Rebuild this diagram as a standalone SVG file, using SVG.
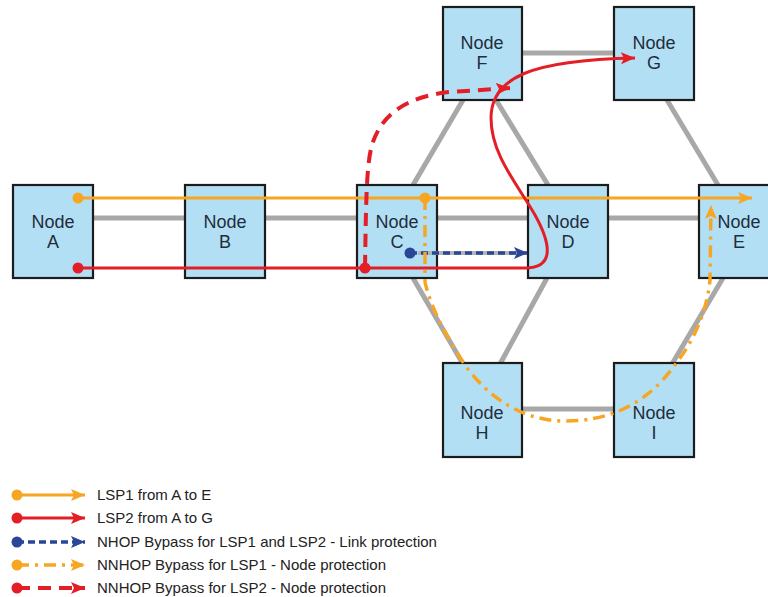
<svg xmlns="http://www.w3.org/2000/svg" width="768" height="597" viewBox="0 0 768 597">
<style>
.link{stroke:#a8a8a8;stroke-width:5;fill:none}
.box{fill:#b3dff4;stroke:#1c1c1c;stroke-width:2.2}
.lbl{font-family:"Liberation Sans",Arial,sans-serif;font-size:18px;fill:#1f2d3d;text-anchor:middle}
.leg{font-family:"Liberation Sans",Arial,sans-serif;font-size:15px;fill:#222}
.orange{stroke:#f6a623;stroke-width:3;fill:none}
.red{stroke:#e31e26;stroke-width:3;fill:none}
.blue{stroke:#2b4597;stroke-width:3.5;fill:none;stroke-dasharray:7 4}
.odash{stroke:#f6a623;stroke-width:3.5;fill:none;stroke-dasharray:12 6 3 6}
.rdash{stroke:#e31e26;stroke-width:4;fill:none;stroke-dasharray:13 8}
</style>
<defs>
<marker id="ao" markerUnits="userSpaceOnUse" markerWidth="16" markerHeight="12" refX="14" refY="6" orient="auto"><path d="M0,0 L14,6 L0,12 L3,6 z" fill="#f6a623"/></marker>
<marker id="ar" markerUnits="userSpaceOnUse" markerWidth="16" markerHeight="12" refX="14" refY="6" orient="auto"><path d="M0,0 L14,6 L0,12 L3,6 z" fill="#e31e26"/></marker>
<marker id="ab" markerUnits="userSpaceOnUse" markerWidth="16" markerHeight="12" refX="14" refY="6" orient="auto"><path d="M0,0 L14,6 L0,12 L3,6 z" fill="#2b4597"/></marker>
</defs>
<g id="links">
<line class="link" x1="93" y1="218" x2="185" y2="218"/>
<line class="link" x1="265" y1="218" x2="357" y2="218"/>
<line class="link" x1="437" y1="218" x2="528" y2="218"/>
<line class="link" x1="608" y1="218" x2="699" y2="218"/>
<line class="link" x1="522" y1="53" x2="614" y2="53"/>
<line class="link" x1="522" y1="409" x2="614" y2="409"/>
<line class="link" x1="413" y1="185" x2="463" y2="100"/>
<line class="link" x1="548" y1="185" x2="496" y2="100"/>
<line class="link" x1="718" y1="185" x2="667" y2="100"/>
<line class="link" x1="413" y1="278" x2="463" y2="364"/>
<line class="link" x1="547" y1="278" x2="500" y2="364"/>
<line class="link" x1="723" y1="278" x2="672" y2="364"/>
</g>
<g id="nodeA"><rect class="box" x="13" y="185" width="80" height="93"/><text class="lbl" x="53" y="228">Node</text><text class="lbl" x="53" y="248">A</text></g>
<g id="nodeB"><rect class="box" x="185" y="185" width="80" height="93"/><text class="lbl" x="225" y="228">Node</text><text class="lbl" x="225" y="248">B</text></g>
<g id="nodeC"><rect class="box" x="357" y="185" width="80" height="93"/><text class="lbl" x="397" y="228">Node</text><text class="lbl" x="397" y="248">C</text></g>
<g id="nodeD"><rect class="box" x="528" y="185" width="80" height="93"/><text class="lbl" x="568" y="228">Node</text><text class="lbl" x="568" y="248">D</text></g>
<g id="nodeE"><rect class="box" x="699" y="185" width="80" height="93"/><text class="lbl" x="739" y="228">Node</text><text class="lbl" x="739" y="248">E</text></g>
<g id="nodeF"><rect class="box" x="443" y="7" width="79" height="93"/><text class="lbl" x="482" y="49">Node</text><text class="lbl" x="482" y="69">F</text></g>
<g id="nodeG"><rect class="box" x="614" y="7" width="80" height="93"/><text class="lbl" x="654" y="49">Node</text><text class="lbl" x="654" y="69">G</text></g>
<g id="nodeH"><rect class="box" x="443" y="363" width="79" height="94"/><text class="lbl" x="482" y="419">Node</text><text class="lbl" x="482" y="439">H</text></g>
<g id="nodeI"><rect class="box" x="614" y="363" width="80" height="94"/><text class="lbl" x="654" y="419">Node</text><text class="lbl" x="654" y="439">I</text></g>
<g id="connectors">
<path class="orange" d="M78,198 H752" marker-end="url(#ao)"/>
<path class="red" d="M78,268 H525 C556,268 550,242 535,215 C518,185 491,155 491,118 C491,78 530,60 635,58" marker-end="url(#ar)"/>
<line x1="418" y1="253" x2="520" y2="253" stroke="#b4b4b4" stroke-width="4"/>
<path class="blue" d="M410,253 H528" marker-end="url(#ab)"/>
<path class="odash" d="M425,198 V282 C430,305 445,335 465,365 C490,400 525,421 565,421 C605,421 635,408 660,383 C690,350 706,318 710,280 L711,205" marker-end="url(#ao)"/>
<path class="rdash" d="M365,268 C366,210 366,165 372,145 C382,112 410,96 450,92 L510,88" marker-end="url(#ar)"/>
<circle cx="78" cy="198" r="5.5" fill="#f6a623"/>
<circle cx="78" cy="268" r="5.5" fill="#e31e26"/>
<circle cx="365" cy="268" r="5.5" fill="#e31e26"/>
<circle cx="425" cy="198" r="5.5" fill="#f6a623"/>
<circle cx="410" cy="253" r="5.5" fill="#2b4597"/>
</g>
<g id="legend">
<path class="orange" d="M17,495 H85" marker-end="url(#ao)"/><circle cx="17" cy="495" r="5.5" fill="#f6a623"/>
<text class="leg" x="97" y="500">LSP1 from A to E</text>
<path class="red" d="M17,518 H85" marker-end="url(#ar)"/><circle cx="17" cy="518" r="5.5" fill="#e31e26"/>
<text class="leg" x="97" y="523">LSP2 from A to G</text>
<path class="blue" d="M17,542 H85" marker-end="url(#ab)"/><circle cx="17" cy="542" r="5.5" fill="#2b4597"/>
<text class="leg" x="97" y="547">NHOP Bypass for LSP1 and LSP2 - Link protection</text>
<path class="odash" d="M17,565 H85" marker-end="url(#ao)"/><circle cx="17" cy="565" r="5.5" fill="#f6a623"/>
<text class="leg" x="97" y="570">NNHOP Bypass for LSP1 - Node protection</text>
<path class="rdash" d="M17,588 H85" marker-end="url(#ar)"/><circle cx="17" cy="588" r="5.5" fill="#e31e26"/>
<text class="leg" x="97" y="593">NNHOP Bypass for LSP2 - Node protection</text>
</g>
</svg>
